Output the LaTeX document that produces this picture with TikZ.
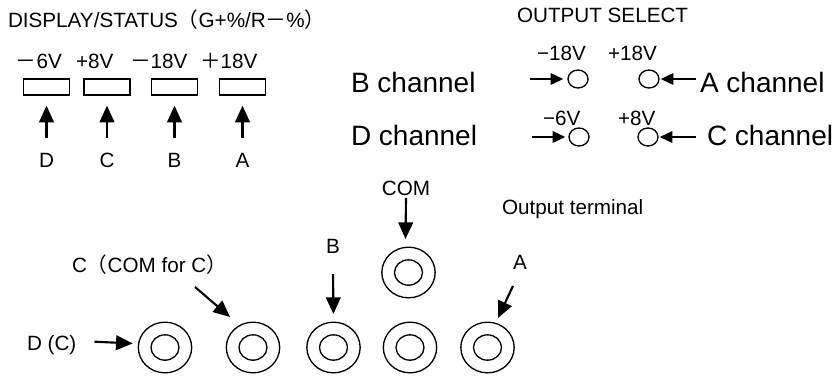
\documentclass[tikz,border=0pt]{standalone}
\usepackage{fontspec}
\setmainfont{Liberation Sans}
\newfontfamily\cjk{Noto Sans CJK JP}
\usetikzlibrary{shapes.geometric,arrows.meta,positioning}

\begin{document}
\begin{tikzpicture}[x=0.75pt,y=-0.75pt,line width=1pt]
% Styles
\tikzstyle{txt}=[inner sep=0pt,outer sep=0pt,font=\fontsize{15.5}{18}\selectfont]
\tikzstyle{big}=[inner sep=0pt,outer sep=0pt,font=\fontsize{21}{25}\selectfont]
\tikzstyle{disp}=[draw,rectangle,minimum width=34.5pt,minimum height=12pt,inner sep=0pt]
\tikzstyle{sel}=[draw,ellipse,minimum width=15pt,minimum height=13.5pt,inner sep=0pt]
\tikzstyle{term}=[draw,ellipse,minimum width=40pt,minimum height=38pt,inner sep=0pt]
\tikzstyle{arr}=[line width=1.6pt,-{Triangle[length=12.5pt,width=11pt]}]
\tikzstyle{arr2}=[line width=1.6pt,-{Triangle[length=9.5pt,width=8.5pt]}]

\useasboundingbox (0,0) rectangle (835,376);

% Display / status
\node[txt,anchor=base west] (disp) at (8,27) {DISPLAY/STATUS{\cjk （}G+\%/R{\cjk －}\%{\cjk ）}};
\node[txt,anchor=base west] (vD) at (16,68) {{\cjk －}6V};
\node[txt,anchor=base west] (vC) at (76,68) {+8V};
\node[txt,anchor=base west] (vB) at (130,68) {{\cjk －}18V};
\node[txt,anchor=base west] (vA) at (200,68) {{\cjk ＋}18V};
\foreach \n/\x in {D/46.5,C/107,B/174.5,A/242.5}{
  \node[disp] (b\n) at (\x,87) {};
  \node[txt,anchor=base] (l\n) at (\x,167) {\n};
  \draw[arr,shorten <=11pt,shorten >=7.5pt] (l\n) -- (b\n);
}

% Output select
\node[txt,anchor=base west] (osel) at (517,22) {OUTPUT SELECT};
\node[big,anchor=base west] (chB) at (351,92) {B channel};
\node[big,anchor=base west] (chD) at (351,145) {D channel};
\node[big,anchor=base west] (chA) at (700,92) {A channel};
\node[big,anchor=base west] (chC) at (707,145) {C channel};
\node[sel] (s1) at (578,79) {};
\node[sel] (s2) at (649,79) {};
\node[sel] (s3) at (579,137) {};
\node[sel] (s4) at (648,137) {};
\node[txt,anchor=base west] (v1) at (537,60) {−18V};
\node[txt,anchor=base west] (v2) at (608,60) {+18V};
\node[txt,anchor=base west] (v3) at (543,125) {−6V};
\node[txt,anchor=base west] (v4) at (618,125) {+8V};
\draw[arr2] ([shift={(-37,0)}]s1.west) -- ([shift={(-4,0)}]s1.west);
\draw[arr2] ([shift={(-36,0)}]s3.west) -- ([shift={(-3,0)}]s3.west);
\draw[arr2] ([shift={(36,0)}]s2.east) -- ([shift={(1,0)}]s2.east);
\draw[arr2] ([shift={(37,0)}]s4.east) -- ([shift={(1,0)}]s4.east);

% Output terminals
\foreach \n/\x/\y in {t1/165/347.5,t2/253/347.5,t3/333.5/347.5,t4/410/347.5,t5/487.5/347.5,tc/408.5/272.5}{
  \node[term] (\n) at (\x,\y) {};
  \node[term,minimum width=21pt,minimum height=19pt] (\n i) at (\n) {};
}
\node[txt,anchor=base west] (oterm) at (502,214) {Output terminal};
\node[txt,anchor=base west] (lDC) at (27,350) {D (C)};
\node[txt,anchor=base west] (lCC) at (72,272) {C{\cjk （}COM for C{\cjk ）}};
\node[txt,anchor=base] (lBt) at (333,253) {B};
\node[txt,anchor=base] (lCOM) at (406,195) {COM};
\node[txt,anchor=base] (lAt) at (520,269) {A};

\draw[arr] ([shift={(18,-3)}]lDC.east) -- ([shift={(-5,-4)}]t1.west);
\draw[arr] ([shift={(123,15)}]lCC.base west) -- ([shift={(-23,-30.5)}]t2.center);
\draw[arr] ([shift={(0,21)}]lBt.south) -- ([shift={(0,-7.5)}]t3.north);
\draw[arr] ([shift={(0,3)}]lCOM.south) -- ([shift={(-3,-7.5)}]tc.north);
\draw[arr] ([shift={(-7,24)}]lAt.center) -- ([shift={(10.5,-29.5)}]t5.center);
\end{tikzpicture}
\end{document}
